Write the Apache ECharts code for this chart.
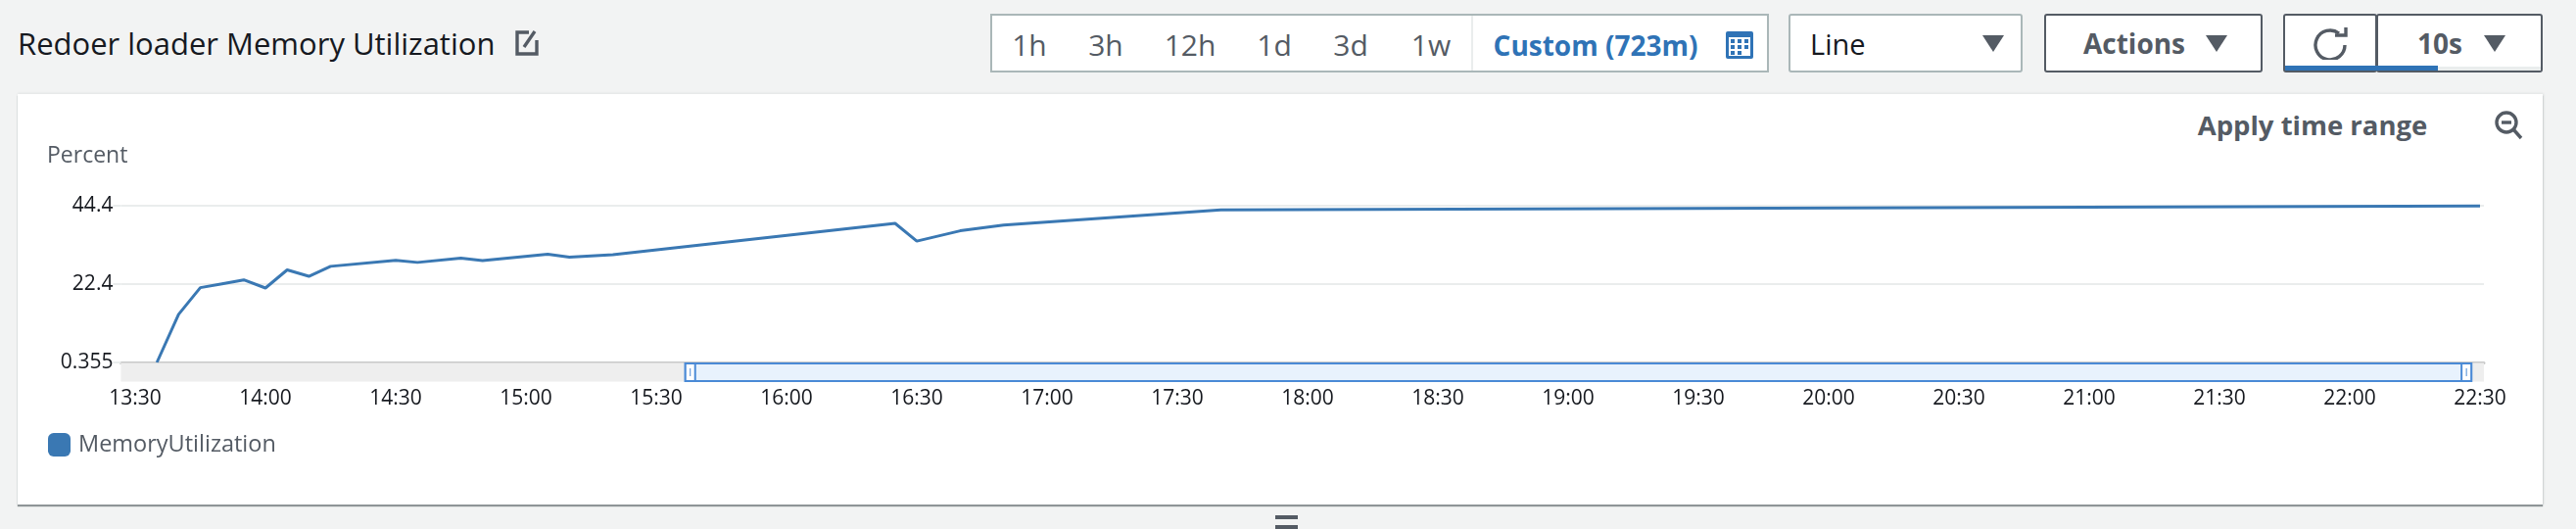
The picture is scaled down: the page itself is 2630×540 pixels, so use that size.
<!DOCTYPE html>
<html><head><meta charset="utf-8">
<script src="https://cdn.jsdelivr.net/npm/echarts@6/dist/echarts.min.js"></script>
<style>
html,body{margin:0;padding:0;width:2630px;height:540px;overflow:hidden;background:#f2f3f3;font-family:"Open Sans",sans-serif}
.a{position:absolute;box-sizing:border-box;white-space:nowrap}
.t{position:absolute;white-space:nowrap;line-height:1;transform:translate(-50%,-50%);color:#545b64;font-size:30px}
.tl{position:absolute;white-space:nowrap;line-height:1;transform:translateY(-50%)}
.box{background:#fff;border:2px solid #aab7b8}
.dark{border:2px solid #545b64;border-radius:3px;background:#fff}
svg{position:absolute;display:block}
#card{left:18px;top:96px;width:2578px;height:419px;background:#fff;box-shadow:0 2px 1px #8f9597,0 -1px 2px #e6e8e8,1px 0 2px #d5d8d8}
#chart{position:absolute;left:0;top:0;width:2630px;height:540px}
</style></head><body>
<div class="tl" style="left:18px;top:44px;font-size:31px;color:#16191f">Redoer loader Memory Utilization</div>
<svg style="left:526px;top:30px" width="24" height="28" viewBox="0 0 24 28"><path d="M14 3H2v22h20V11" fill="none" stroke="#545b64" stroke-width="3.4"/><path d="M9 18L20 2" stroke="#545b64" stroke-width="3.4"/></svg>

<div class="a box" style="left:1011px;top:14px;width:795px;height:60px"></div>
<div class="a" style="left:1502px;top:16px;width:2px;height:56px;background:#eaeded"></div>
<div class="t" style="left:1051px;top:46px">1h</div>
<div class="t" style="left:1129px;top:46px">3h</div>
<div class="t" style="left:1215px;top:46px">12h</div>
<div class="t" style="left:1301px;top:46px">1d</div>
<div class="t" style="left:1379px;top:46px">3d</div>
<div class="t" style="left:1461px;top:46px">1w</div>
<div class="t" style="left:1629px;top:46px;color:#2f73b6;font-weight:700;font-size:28px">Custom (723m)</div>
<svg style="left:1762px;top:32px" width="28" height="28" viewBox="0 0 28 28"><rect width="28" height="28" rx="2" fill="#2f73b6"/><rect x="3" y="6" width="22" height="19" fill="#fff"/><g fill="#2f73b6"><rect x="5" y="8" width="4" height="4"/><rect x="12" y="8" width="4" height="4"/><rect x="19" y="8" width="4" height="4"/><rect x="5" y="14" width="4" height="4"/><rect x="12" y="14" width="4" height="4"/><rect x="19" y="14" width="4" height="4"/><rect x="5" y="20" width="4" height="4"/><rect x="12" y="20" width="4" height="4"/></g></svg>

<div class="a box" style="left:1826px;top:14px;width:239px;height:60px;border-radius:3px"></div>
<div class="tl" style="left:1848px;top:44px;font-size:29px;color:#16191f">Line</div>
<svg style="left:2024px;top:36px" width="22" height="17" viewBox="0 0 22 17"><path d="M0 0H22L11 17Z" fill="#545b64"/></svg>

<div class="a dark" style="left:2087px;top:14px;width:223px;height:60px"></div>
<div class="t" style="left:2179px;top:44px;font-weight:700;font-size:28px">Actions</div>
<svg style="left:2252px;top:36px" width="22" height="17" viewBox="0 0 22 17"><path d="M0 0H22L11 17Z" fill="#545b64"/></svg>

<div class="a dark" style="left:2331px;top:14px;width:96px;height:60px"></div>
<div class="a dark" style="left:2426px;top:14px;width:170px;height:60px"></div>
<div class="a" style="left:2333px;top:68px;width:261px;height:4px;background:#eaeded"></div>
<div class="a" style="left:2333px;top:67px;width:156px;height:5px;background:#2f73b6"></div>
<svg style="left:2362px;top:27px" width="36" height="34" viewBox="0 0 36 34"><path d="M26 7A15 15 0 1 0 32 19" fill="none" stroke="#545b64" stroke-width="3.4"/><path d="M22 9H33V1" fill="none" stroke="#545b64" stroke-width="3.4"/></svg>
<div class="t" style="left:2491px;top:44px;font-weight:700;font-size:28px">10s</div>
<svg style="left:2536px;top:36px" width="22" height="17" viewBox="0 0 22 17"><path d="M0 0H22L11 17Z" fill="#545b64"/></svg>

<div class="a" id="card"></div>
<div class="t" style="left:2361px;top:128px;font-weight:700;font-size:27.5px">Apply time range</div>
<svg style="left:2546px;top:113px" width="30" height="30" viewBox="0 0 30 30"><circle cx="13" cy="12" r="10" fill="none" stroke="#545b64" stroke-width="3.4"/><path d="M8 12H18" stroke="#545b64" stroke-width="3.4"/><path d="M20 19L28 28" stroke="#545b64" stroke-width="3.4"/></svg>
<div id="chart"></div>
<div class="a" style="left:1302px;top:526px;width:23px;height:4px;background:#545b64"></div>
<div class="a" style="left:1302px;top:536px;width:23px;height:4px;background:#545b64"></div>

<script>
var seriesName = 'MemoryUtilization';
var times = ['13:35','13:40','13:45','13:50','13:55','14:00','14:05','14:10','14:15','14:30','14:35','14:45','14:50','15:05','15:10','15:20','16:25','16:30','16:40','16:50','17:40','22:30'];
var values = [0.355,13.9,21.4,22.5,23.6,21.3,26.4,24.6,27.4,29.1,28.5,29.7,29.0,30.8,30.0,30.7,39.5,34.5,37.4,39.0,43.3,44.4];
var xTickLabels = ['13:30','14:00','14:30','15:00','15:30','16:00','16:30','17:00','17:30','18:00','18:30','19:00','19:30','20:00','20:30','21:00','21:30','22:00','22:30'];
var yTicks = [0.355,22.4,44.4];
var axisRange = ['13:26.7','22:30.9'];
var sliderWindow = ['15:36.7','22:28'];
var fontFam = '"Open Sans",sans-serif';

function mins(s){var p=s.split(':');return (+p[0])*60+parseFloat(p[1]);}
function pad(n){return ('0'+n).slice(-2);}
var chart = echarts.init(document.getElementById('chart'),null,{width:2630,height:540});
chart.setOption({
  backgroundColor:'transparent',
  animation:false,
  grid:{left:123.4,top:200.5,right:94,height:169.5,containLabel:false},
  title:{text:'Percent',left:43,top:143,textStyle:{fontFamily:fontFam,fontWeight:400,fontSize:23,color:'#545b64'}},
  legend:{data:[seriesName],left:44,top:437,itemWidth:23,itemHeight:24,icon:'roundRect',itemGap:0,
    textStyle:{fontFamily:fontFam,fontSize:23.5,color:'#545b64',padding:[0,0,0,3]}},
  xAxis:{type:'value',min:mins(axisRange[0]),max:mins(axisRange[1]),
    axisLine:{show:true,lineStyle:{color:'#c8c9c9',width:3}},axisTick:{show:false},splitLine:{show:false},
    axisLabel:{show:true,margin:27,fontFamily:fontFam,fontSize:21,color:'#16191f',hideOverlap:false,
      customValues:xTickLabels.map(mins),
      formatter:function(v){return pad(Math.floor(v/60))+':'+pad(Math.round(v%60));}}},
  yAxis:{type:'value',min:0.355,max:47.07,
    axisLine:{show:false},
    axisTick:{show:true,length:8,lineStyle:{color:'#eaeded',width:2},customValues:yTicks},
    splitLine:{show:true,lineStyle:{color:'#eaeded',width:2}},
    axisLabel:{margin:8,padding:[3,0,0,0],fontFamily:fontFam,fontSize:21,color:'#16191f',customValues:yTicks,formatter:function(v){return String(v);}}},
  series:[{name:seriesName,type:'line',symbol:'none',showSymbol:false,
    data:times.map(function(t,i){return [mins(t),values[i]];}),
    lineStyle:{color:'#3a78b3',width:3},itemStyle:{color:'#3a78b3'}}]
});
var x0=chart.convertToPixel({xAxisIndex:0},mins(sliderWindow[0]));
var x1=chart.convertToPixel({xAxisIndex:0},mins(sliderWindow[1]));
var gr=chart.getModel().getComponent('grid').coordinateSystem.getRect();
var slTop=371,slH=18,blue='#4a8ad6';
function hd(x){return [
  {type:'rect',shape:{x:x,y:slTop,width:10,height:slH},style:{fill:'#fff',stroke:blue,lineWidth:2}},
  {type:'rect',shape:{x:x+4.5,y:slTop+5,width:1,height:8},style:{fill:blue}}];}
chart.setOption({graphic:{elements:[
  {type:'rect',z:5,shape:{x:gr.x,y:slTop-0.5,width:gr.width,height:slH+1},style:{fill:'#eeeeee'}},
  {type:'rect',z:6,shape:{x:x0,y:slTop,width:x1-x0,height:slH},style:{fill:'#e8f2fd',stroke:blue,lineWidth:2}}
].concat(hd(x0),hd(x1-10)).map(function(e){e.z=e.z||7;return e;})}});
</script>
</body></html>
